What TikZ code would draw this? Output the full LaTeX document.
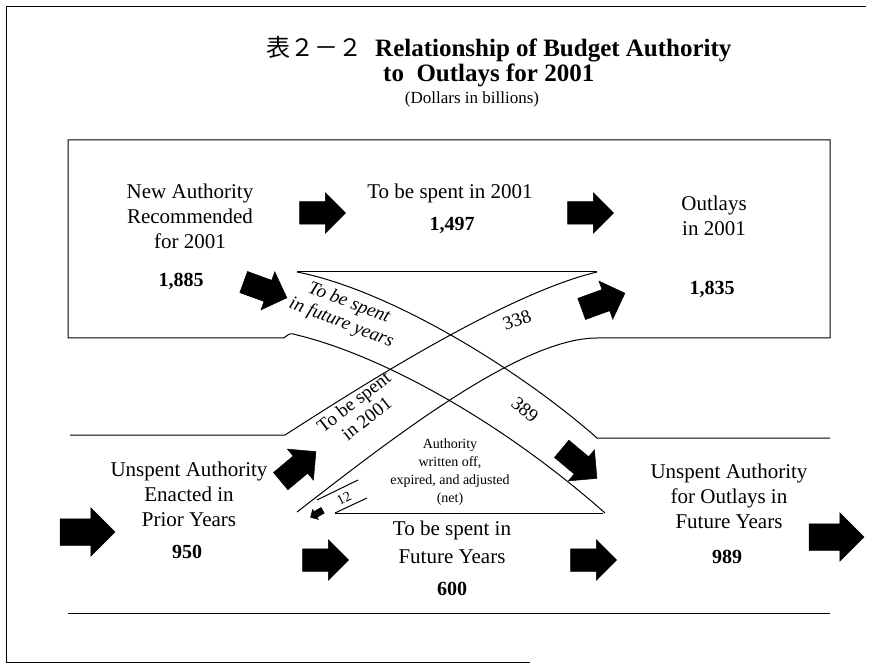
\documentclass[tikz,border=0pt]{standalone}
\usepackage{fontspec}
\setmainfont{Liberation Serif}
\newfontfamily\cjk{Noto Sans CJK JP}
\usetikzlibrary{shapes.arrows}
\tikzset{
    band/.style={line width=1pt},
    frame/.style={line width=0.8pt},
    txt/.style={font=\fontsize{21}{25}\selectfont, align=center, inner sep=0pt, anchor=base},
    num/.style={font=\fontsize{20}{24}\selectfont\bfseries, inner sep=0pt, anchor=base},
    small/.style={font=\fontsize{14}{18}\selectfont, align=center, inner sep=0pt, anchor=base},
    slant/.style={font=\fontsize{19}{21}\selectfont\itshape, align=center, inner sep=0pt},
    upright/.style={font=\fontsize{19}{21}\selectfont, align=center, inner sep=0pt},
    fat/.style={single arrow, fill=black, draw=black, line width=0.5pt, inner xsep=0pt, outer sep=0pt},
    fatmid/.style={fat, minimum height=46pt, inner ysep=11pt, single arrow head extend=9pt},
    fatbig/.style={fat, minimum height=55pt, inner ysep=13pt, single arrow head extend=11pt},
    fattiny/.style={fat, minimum height=14pt, inner ysep=3pt, single arrow head extend=2.5pt}
}
\begin{document}
\begin{tikzpicture}[x=1pt, y=-1pt]
    \useasboundingbox (0,0) rectangle (871,671);
    \draw[frame] (866,6) -- (6,6) -- (6,662) -- (530,662);
    \node[anchor=base west, inner sep=0pt, font=\fontsize{24}{28}\selectfont\cjk] (tno) at (266,57) {表２－２};
    \node[anchor=base west, inner sep=0pt, font=\fontsize{25}{29}\selectfont\bfseries] (t1) at (375,57) {Relationship of Budget Authority};
    \node[anchor=base west, inner sep=0pt, font=\fontsize{25}{29}\selectfont\bfseries] (t2) at (383,82) {to\ \ Outlays for 2001};
    \node[anchor=base, inner sep=0pt, font=\fontsize{17}{20}\selectfont] (t3) at (472,104) {(Dollars in billions)};
    \draw[band] (597,338) -- (830,338) -- (830,140) -- (68,140) -- (68,338) -- (284,338) .. controls (290,333) .. (297,335)
        .. controls (380,355) and (500,420) .. (605,513);
    \draw[band] (297,272) -- (597,272);
    \draw[band] (297,272) .. controls (390,290) and (520,370) .. (597,438) -- (830,438);
    \draw[band] (70,435) -- (285,435) .. controls (340,400) and (500,295) .. (597,272);
    \draw[band] (297,512) .. controls (390,440) and (520,338) .. (597,338);
    \draw[band] (335,513) -- (603,513);
    \draw[band] (68,613) -- (830,613);
    \draw[band] (317,500) -- (358,480);
    \draw[band] (335,513) -- (367,498);
    \node[txt] (newauth) at (190,249) {New Authority\\Recommended\\for 2001};
    \node[num] (v1885) at (181,287) {1,885};
    \node[txt] (now) at (450,199) {To be spent in 2001};
    \node[num] (v1497) at (452,231) {1,497};
    \node[txt] (outlays) at (714,236) {Outlays\\in 2001};
    \node[num] (v1835) at (712,295) {1,835};
    \node[txt] (prior) at (189,526) {Unspent Authority\\Enacted in\\Prior Years};
    \node[num] (v950) at (187,558) {950};
    \node[txt] (later) at (729,528) {Unspent Authority\\for Outlays in\\Future Years};
    \node[num] (v989) at (727,563) {989};
    \node[txt, font=\fontsize{21}{28}\selectfont] (future) at (452,563) {To be spent in\\Future Years};
    \node[num] (v600) at (452,595) {600};
    \node[slant, rotate=-21] (futlbl) at (345,313) {To be spent\\in future years};
    \node[upright, rotate=38] (nowlbl) at (360,410) {To be spent\\in 2001};
    \node[upright, rotate=20] (v338) at (517,320) {338};
    \node[upright, rotate=-40] (v389) at (525,410) {389};
    \node[upright, rotate=26, font=\fontsize{14}{16}\selectfont] (v12) at (344,498) {12};
    \node[small] (lapse) at (450,502) {Authority\\written off,\\expired, and adjusted\\(net)};
    \node[fatmid] (a1) at (317,213) {};
    \node[fatmid] (a2) at (585,213) {};
    \node[fatmid, rotate=-20] (a3) at (260,288) {};
    \node[fatmid, rotate=20] (a4) at (598,303) {};
    \node[fatmid, rotate=40] (a5) at (294,470) {};
    \node[fatmid, rotate=-40] (a6) at (575,460) {};
    \node[fatbig] (a7) at (81,532) {};
    \node[fatbig] (a8) at (830,537) {};
    \node[fatmid] (a9) at (320,560) {};
    \node[fatmid] (a10) at (588,560) {};
    \node[fattiny, rotate=210] (a11) at (318,513) {};
\end{tikzpicture}
\end{document}
